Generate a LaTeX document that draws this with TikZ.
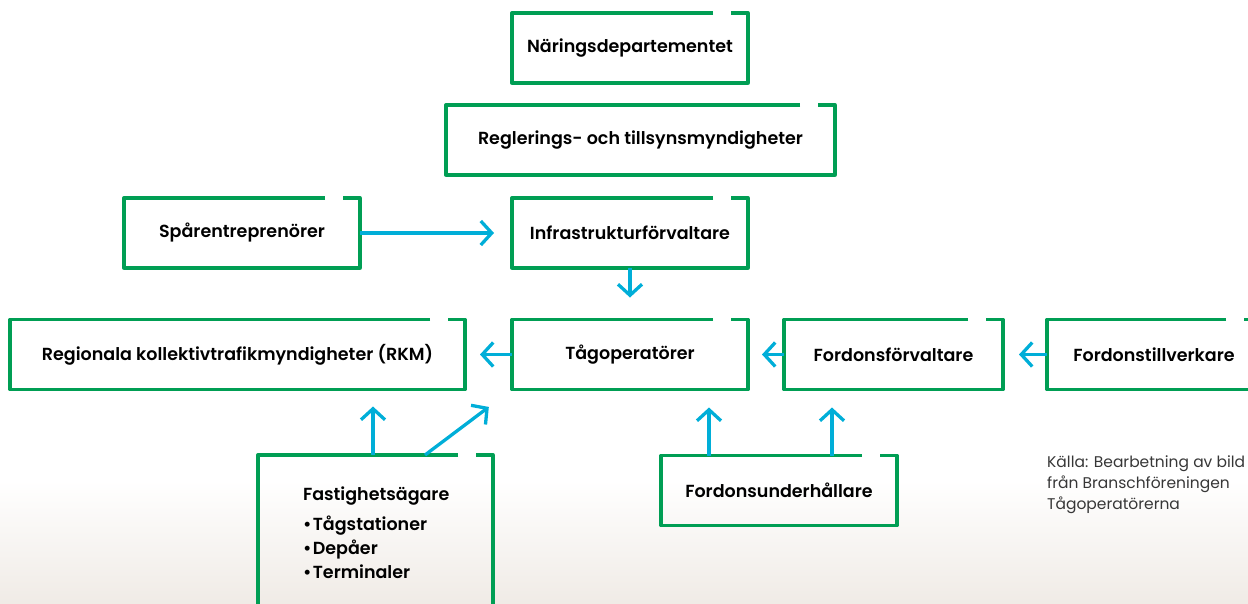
\documentclass[tikz,border=0pt]{standalone}
\usepackage{fontspec}
\setmainfont{Poppins}[BoldFont={* SemiBold}]
\usepackage{tikz}
\usetikzlibrary{arrows.meta}

\definecolor{rimgreen}{RGB}{0,158,84}
\definecolor{flowblue}{RGB}{0,174,216}
\definecolor{srcgray}{RGB}{55,55,55}

\tikzset{rim/.style={draw=rimgreen, line width=3.3pt, line join=round}}

\begin{document}
\begin{tikzpicture}[x=1pt,y=-1pt]
\useasboundingbox (0,0) rectangle (1248,603);
\clip (0,0) rectangle (1248,603);
\shade[top color=white, bottom color={rgb,255:red,240;green,235;blue,230}] (0,480) rectangle (1248,603);

\begin{scope}[every node/.style={inner sep=0pt, outer sep=0pt, minimum height=70pt,
                                 font=\fontsize{17.5}{21}\selectfont\bfseries}]
  \node[minimum width=236pt] (ndep) at (630,48) {Näringsdepartementet};
  \node[minimum width=389pt] (regl) at (640.5,140) {Reglerings- och tillsynsmyndigheter};
  \node[minimum width=236pt] (spar) at (242,233) {Spårentreprenörer};
  \node[minimum width=236pt] (infra) at (630,233) {Infrastrukturförvaltare};
  \node[minimum width=455pt] (rkm) at (237.5,354.5) {Regionala kollektivtrafikmyndigheter (RKM)};
  \node[minimum width=236pt] (tag) at (630,354.5) {Tågoperatörer};
  \node[minimum width=219pt] (ffv) at (893.5,354.5) {Fordonsförvaltare};
  \node[minimum width=214pt] (ftv) at (1154,354.5) {Fordonstillverkare};
  \node[minimum width=236pt] (fuh) at (779,490.5) {Fordonsunderhållare};
  \node[minimum width=235pt, minimum height=180pt] (fast) at (375.5,545)
    {\parbox[c][116pt][t]{145pt}{\fontsize{17.5}{24}\selectfont\raggedright
      Fastighetsägare\\[6pt]
      \textbullet\kern1.5pt Tågstationer\\
      \textbullet\kern1.5pt Depåer\\
      \textbullet\kern1.5pt Terminaler}};
\end{scope}

\foreach \n in {ndep,regl,spar,infra,rkm,tag,ffv,ftv,fuh,fast}
  \draw[rim] ([xshift=-35pt]\n.north east) -- (\n.north west) -- (\n.south west)
    -- (\n.south east) -- (\n.north east) -- ([xshift=-17pt]\n.north east);

\begin{scope}[>={Straight Barb[length=11pt,width=24pt]},
              every edge/.style={draw=flowblue, line width=3.3pt}]
    \path[->] (spar) edge[shorten >=18pt] (infra);
    \path[->] (infra) edge[shorten >=22pt] (tag);
    \path[->] (tag) edge[shorten >=15pt] (rkm);
    \path[->] (ffv) edge[shorten >=14pt] (tag);
    \path[->] (ftv) edge[shorten >=16pt] (ffv);
    \path[->] ([xshift=-2.5pt]fast.north) edge[shorten >=17pt] ([xshift=-2.5pt]fast.north |- rkm.south);
    \path[->] ([xshift=49.5pt]fast.north) edge[shorten >=29pt] (tag.south west);
    \path[->] ([xshift=-70pt]fuh.north) edge[shorten >=18pt] ([xshift=-70pt]fuh.north |- tag.south);
    \path[->] ([xshift=53pt]fuh.north) edge[shorten >=18pt] ([xshift=53pt]fuh.north |- ffv.south);
\end{scope}

\node[anchor=north west, align=left, inner sep=0pt, text=srcgray,
      font=\fontsize{15.5}{21}\selectfont] (src) at (1047,455)
  {Källa: Bearbetning av bild\\från Branschföreningen\\Tågoperatörerna};

\end{tikzpicture}
\end{document}
